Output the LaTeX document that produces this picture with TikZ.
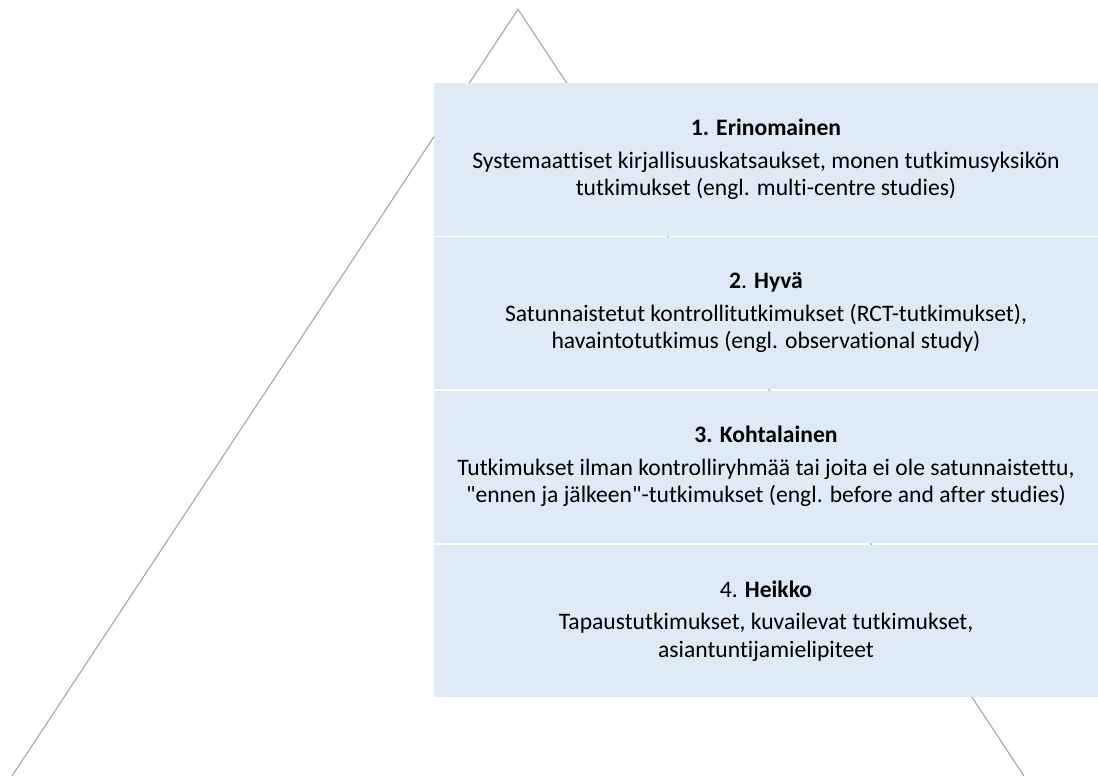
\documentclass[tikz,border=0pt]{standalone}
\usepackage{fontspec}
\setmainfont{Carlito}[Ligatures={NoCommon}]
\newfontfamily\qfont{Carlito}[Ligatures=ResetAll]
\newcommand{\sq}{{\qfont\char34}}
\definecolor{boxfill}{HTML}{DEEAF6}
\definecolor{trigray}{HTML}{A6A6A6}
\begin{document}
\begin{tikzpicture}[x=1pt,y=-1pt,
  tri/.style={draw=trigray,line width=1.1pt},
  level/.style={fill=boxfill,draw=none,inner sep=0pt,minimum width=663.5pt,minimum height=152pt,
    align=center,font=\fontsize{23.6}{27.5}\selectfont}]
\useasboundingbox (0,0) rectangle (1098,776);
\coordinate (apex) at (518,9.3);
\coordinate (bl) at (12,776);
\coordinate (br) at (1024,776);
\begin{scope}
\clip (0,0) rectangle (1098,776);
\draw[tri,line join=miter] (bl) -- (apex) -- (br);
\end{scope}
\node[level] (b1) at (766,159.5) {\textbf{1. Erinomainen}\\[5pt]Systemaattiset kirjallisuuskatsaukset, monen tutkimusyksikön\\tutkimukset (engl. multi-centre studies)};
\node[level] (b2) at (766,312.85) {\textbf{2}. \textbf{Hyvä}\\[5pt]Satunnaistetut kontrollitutkimukset (RCT-tutkimukset),\\havaintotutkimus (engl. observational study)};
\node[level] (b3) at (766,466.7) {\textbf{3. Kohtalainen}\\[5pt]Tutkimukset ilman kontrolliryhmää tai joita ei ole satunnaistettu,\\\sq ennen ja jälkeen\sq-tutkimukset (engl. before and after studies)};
\node[level] (b4) at (766,620.85) {4. \textbf{Heikko}\\[5pt]Tapaustutkimukset, kuvailevat tutkimukset,\\asiantuntijamielipiteet};
\end{tikzpicture}
\end{document}
